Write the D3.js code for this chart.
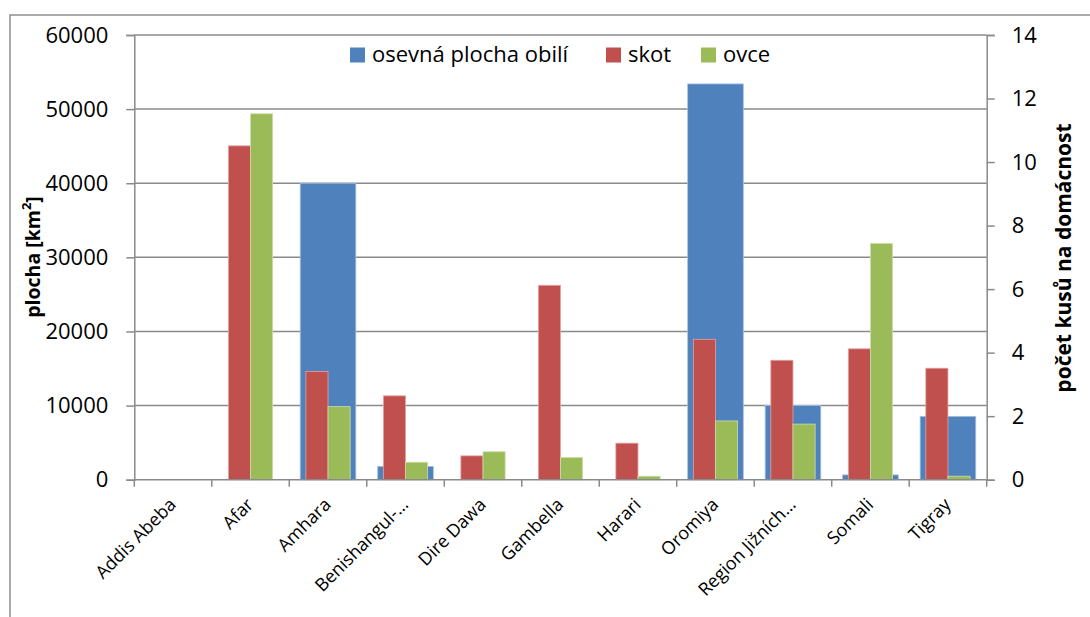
<!DOCTYPE html>
<html>
<head>
<meta charset="utf-8">
<script src="https://cdn.jsdelivr.net/npm/d3@7"></script>
<style>
  html, body { margin: 0; padding: 0; background: #fff; }
  svg { display: block; font-family: "Open Sans", sans-serif; }
</style>
</head>
<body>
<svg id="chart" width="1090" height="617"></svg>
<script>
const categories = ["Addis Abeba", "Afar", "Amhara", "Benishangul-…", "Dire Dawa", "Gambella", "Harari", "Oromiya", "Region Jižních…", "Somali", "Tigray"];
const plocha = [0, 0, 40000, 1800, 0, 0, 0, 53400, 10000, 650, 8550];
const skot = [0, 10.51, 3.41, 2.64, 0.75, 6.12, 1.15, 4.42, 3.76, 4.12, 3.51];
const ovce = [0, 11.52, 2.3, 0.55, 0.88, 0.7, 0.11, 1.85, 1.75, 7.44, 0.11];
const leftTicks = [0, 10000, 20000, 30000, 40000, 50000, 60000];
const rightTicks = [0, 2, 4, 6, 8, 10, 12, 14];
const seriesNames = ["osevná plocha obilí", "skot", "ovce"];
const colors = ["#4F81BD", "#C0504D", "#9BBB59"];

const svg = d3.select("#chart");
const pLeft = 134.3, pRight = 986.7, pTop = 35, pBottom = 479.7;
const axisColor = "#8a8a8a";

// outer border
svg.append("rect").attr("x", 10).attr("y", 15).attr("width", 1200).attr("height", 800)
  .attr("fill", "none").attr("stroke", "#8e8e8e").attr("stroke-width", 1.5);

const x = d3.scaleBand().domain(categories).range([pLeft, pRight]).paddingInner(0).paddingOuter(0);
const yL = d3.scaleLinear().domain([0, 60000]).range([pBottom, pTop]);
const yR = d3.scaleLinear().domain([0, 14]).range([pBottom, pTop]);

// gridlines (primary axis)
svg.append("g").selectAll("line").data(leftTicks.slice(1)).join("line")
  .attr("x1", pLeft).attr("x2", pRight)
  .attr("y1", d => yL(d)).attr("y2", d => yL(d))
  .attr("stroke", axisColor).attr("stroke-width", 1.5);

const bw = x.bandwidth();
const blueW = bw * 0.718;
const subW = bw / 3.5;

// blue bars (primary)
svg.append("g").selectAll("rect").data(categories).join("rect")
  .attr("x", d => x(d) + bw / 2 - blueW / 2)
  .attr("width", blueW)
  .attr("y", (d, i) => yL(plocha[i]))
  .attr("height", (d, i) => pBottom - yL(plocha[i]))
  .attr("fill", colors[0])
  .attr("stroke", (d, i) => plocha[i] > 0 ? "#a9c1df" : "none").attr("stroke-width", 0.8);

// red bars (secondary)
svg.append("g").selectAll("rect").data(categories).join("rect")
  .attr("x", d => x(d) + bw / 2 - subW)
  .attr("width", subW)
  .attr("y", (d, i) => yR(skot[i]))
  .attr("height", (d, i) => pBottom - yR(skot[i]))
  .attr("fill", colors[1])
  .attr("stroke", (d, i) => skot[i] > 0 ? "#e2a3a1" : "none").attr("stroke-width", 0.8);

// green bars (secondary)
svg.append("g").selectAll("rect").data(categories).join("rect")
  .attr("x", d => x(d) + bw / 2)
  .attr("width", subW)
  .attr("y", (d, i) => yR(ovce[i]))
  .attr("height", (d, i) => pBottom - yR(ovce[i]))
  .attr("fill", colors[2])
  .attr("stroke", (d, i) => ovce[i] > 0 ? "#cddcae" : "none").attr("stroke-width", 0.8);

// left axis
const gL = svg.append("g").attr("transform", `translate(${pLeft},0)`)
  .call(d3.axisLeft(yL).tickValues(leftTicks).tickFormat(d3.format("d")).tickSize(8).tickPadding(18));
gL.select(".domain").attr("stroke", axisColor).attr("stroke-width", 1.5);
gL.selectAll(".tick line").attr("stroke", axisColor).attr("stroke-width", 1.5);
gL.selectAll("text").attr("font-family", "Open Sans").attr("font-size", 22).attr("fill", "#000");

// right axis
const gR = svg.append("g").attr("transform", `translate(${pRight},0)`)
  .call(d3.axisRight(yR).tickValues(rightTicks).tickSize(8).tickPadding(17));
gR.select(".domain").attr("stroke", axisColor).attr("stroke-width", 1.5);
gR.selectAll(".tick line").attr("stroke", axisColor).attr("stroke-width", 1.5);
gR.selectAll("text").attr("font-family", "Open Sans").attr("font-size", 22).attr("fill", "#000");

// bottom axis
const gB = svg.append("g").attr("transform", `translate(0,${pBottom})`);
gB.append("line").attr("x1", pLeft).attr("x2", pRight).attr("y1", 0).attr("y2", 0)
  .attr("stroke", axisColor).attr("stroke-width", 1.5);
const boundaries = d3.range(categories.length + 1).map(i => pLeft + i * bw);
gB.selectAll("line.tk").data(boundaries).join("line").attr("class", "tk")
  .attr("x1", d => d).attr("x2", d => d).attr("y1", 0).attr("y2", 7)
  .attr("stroke", axisColor).attr("stroke-width", 1.5);
gB.selectAll("text").data(categories).join("text")
  .attr("transform", d => `translate(${x(d) + bw / 2 + 4},${26}) rotate(-45)`)
  .attr("text-anchor", "end")
  .attr("font-size", 18).attr("fill", "#000")
  .text(d => d);

// axis titles
svg.append("text")
  .attr("transform", `translate(40,${257}) rotate(-90)`)
  .attr("text-anchor", "middle").attr("font-weight", "bold").attr("font-size", 19.5)
  .html('plocha [km<tspan baseline-shift="super" font-size="13">2</tspan>]');
svg.append("text")
  .attr("transform", `translate(1071,${258}) rotate(-90)`)
  .attr("text-anchor", "middle").attr("font-weight", "bold").attr("font-size", 21)
  .text("počet kusů na domácnost");

// legend
const legendX = [350, 606, 701];
const lg = svg.append("g");
seriesNames.forEach((name, i) => {
  lg.append("rect").attr("x", legendX[i]).attr("y", 47.5).attr("width", 15).attr("height", 15).attr("fill", colors[i]);
  lg.append("text").attr("x", legendX[i] + 22).attr("y", 61.5).attr("font-size", 22).attr("fill", "#000").text(name);
});
</script>
</body>
</html>
